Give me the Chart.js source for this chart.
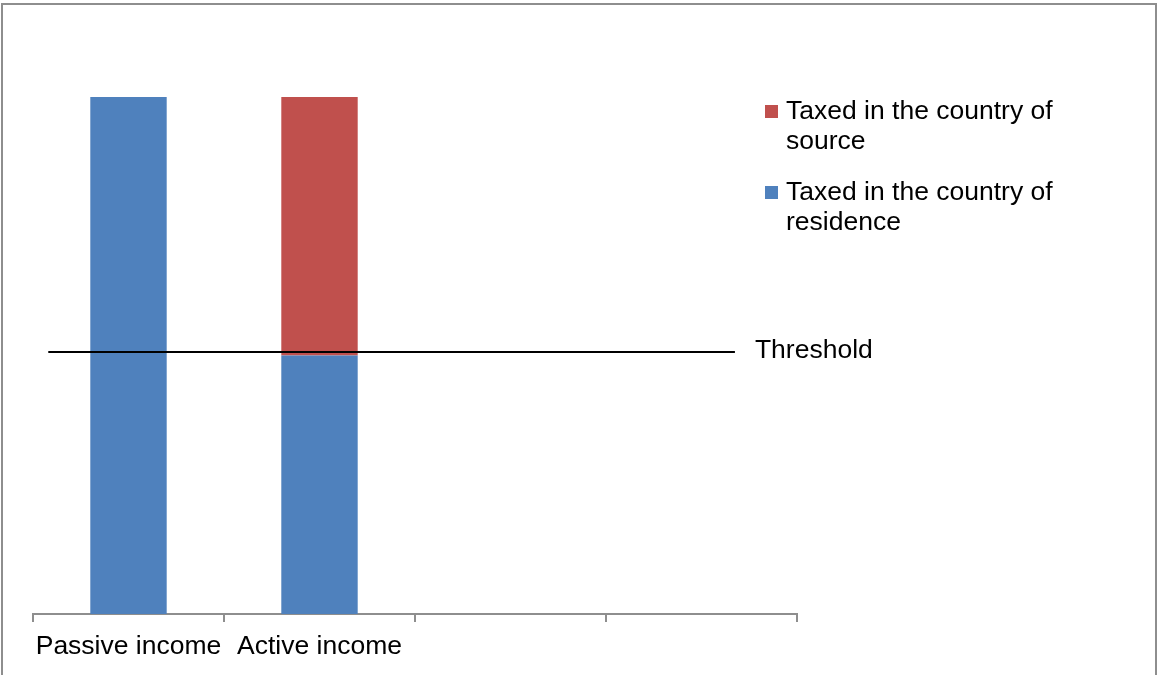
<!DOCTYPE html>
<html>
<head>
<meta charset="utf-8">
<script src="https://cdn.jsdelivr.net/npm/chart.js@4.4.1/dist/chart.umd.min.js"></script>
<style>
  html, body { margin: 0; padding: 0; background: #fff; }
  #wrap { position: relative; width: 1158px; height: 675px; overflow: hidden; }
  #frame { position: absolute; left: 1px; top: 3px; width: 1152px; height: 700px; border: 2px solid #8e8e8e; box-sizing: content-box; pointer-events: none; }
  canvas { position: absolute; left: 0; top: 0; }
</style>
</head>
<body>
<div id="wrap">
  <canvas id="c" width="1158" height="675"></canvas>
  <div id="frame"></div>
</div>
<script>
const categories = ['Passive income', 'Active income', '', ''];
const residenceValues = [100, 50, null, null];
const sourceValues = [null, 50, null, null];
const thresholdValue = 50.7;
const thresholdX = [-0.42, 3.175];
const thresholdLabel = 'Threshold';
const seriesNames = ['Taxed in the country of residence', 'Taxed in the country of source'];
const colors = { residence: '#4F81BD', source: '#C0504D' };
const FONT = '"Liberation Sans", Arial, sans-serif';
const FSIZE = 26.5;

const thresholdPlugin = {
  id: 'thresholdLabel',
  afterDatasetsDraw(chart) {
    const meta = chart.getDatasetMeta(2);
    const pts = meta.data;
    if (!pts.length) return;
    const last = pts[pts.length - 1];
    const ctx = chart.ctx;
    ctx.save();
    ctx.fillStyle = '#000';
    ctx.font = FSIZE + 'px ' + FONT;
    ctx.textBaseline = 'alphabetic';
    ctx.textAlign = 'left';
    ctx.fillText(thresholdLabel, last.x + 20, last.y + 6);
    ctx.restore();
  }
};

const legendPlugin = {
  id: 'customLegend',
  afterDraw(chart) {
    const ctx = chart.ctx;
    ctx.save();
    ctx.font = FSIZE + 'px ' + FONT;
    ctx.textBaseline = 'alphabetic';
    const order = [1, 0];
    const x0 = chart.chartArea.right - 32;
    let y0 = 105;
    order.forEach((di) => {
      const ds = chart.data.datasets[di];
      ctx.fillStyle = ds.backgroundColor;
      ctx.fillRect(x0, y0, 13, 13);
      const words = ds.label.split(' ');
      const lines = [];
      let cur = '';
      words.forEach(w => {
        const test = cur ? cur + ' ' + w : w;
        if (ctx.measureText(test).width > 290 && cur) { lines.push(cur); cur = w; }
        else cur = test;
      });
      if (cur) lines.push(cur);
      ctx.fillStyle = '#000';
      lines.forEach((ln, i) => ctx.fillText(ln, x0 + 21, y0 + 14 + i * 30));
      y0 += 81;
    });
    ctx.restore();
  }
};

new Chart(document.getElementById('c'), {
  data: {
    labels: categories,
    datasets: [
      { type: 'bar', label: seriesNames[0], data: residenceValues, backgroundColor: colors.residence, grouped: false, barPercentage: 0.4, categoryPercentage: 1.0, order: 1 },
      { type: 'bar', label: seriesNames[1], data: sourceValues, backgroundColor: colors.source, grouped: false, barPercentage: 0.4, categoryPercentage: 1.0, order: 2 },
      { type: 'line', label: thresholdLabel, xAxisID: 'x2', stack: 'line', order: 0,
        data: thresholdX.map(x => ({ x: x, y: thresholdValue })),
        borderColor: '#000', borderWidth: 2, pointRadius: 0, fill: false }
    ]
  },
  options: {
    responsive: false,
    animation: false,
    events: [],
    layout: { padding: { left: 33, right: 361, top: 97, bottom: 0 } },
    plugins: { legend: { display: false }, tooltip: { enabled: false } },
    scales: {
      x: {
        type: 'category',
        stacked: true,
        offset: true,
        grid: { offset: true, drawOnChartArea: false, drawTicks: true, tickLength: 8, color: '#8e8e8e', lineWidth: 2 },
        border: { display: true, color: '#8e8e8e', width: 2 },
        ticks: { color: '#000', font: { family: FONT, size: FSIZE }, padding: 9, maxRotation: 0, autoSkip: false },
        afterFit(scale) { scale.height = 61; }
      },
      x2: {
        type: 'linear',
        display: false,
        min: -0.5,
        max: 3.5
      },
      y: {
        stacked: true,
        display: false,
        min: 0,
        max: 100
      }
    }
  },
  plugins: [thresholdPlugin, legendPlugin]
});
</script>
</body>
</html>
